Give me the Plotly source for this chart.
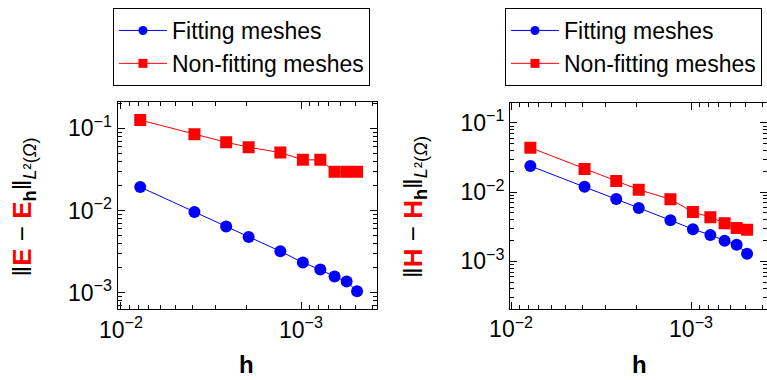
import plotly.graph_objects as go

# mesh sizes h
h = [0.0078125, 0.00390625, 0.0026042, 0.0019531, 0.0013021,
     0.00097656, 0.00078125, 0.00065104, 0.00055804, 0.00048828]

# ||E - E_h||
E_fit = [0.0193, 0.0096, 0.0064, 0.00477, 0.00319, 0.00233, 0.00191, 0.00157, 0.00137, 0.00104]
E_nonfit = [0.126, 0.0846, 0.0676, 0.0589, 0.0506, 0.0413, 0.0413, 0.0295, 0.0295, 0.0295]

# ||H - H_h||
H_fit = [0.0239, 0.0120, 0.00798, 0.00592, 0.00393, 0.00291, 0.00241, 0.00199, 0.00173, 0.00129]
H_nonfit = [0.0440, 0.0216, 0.0145, 0.01087, 0.00789, 0.00517, 0.00434, 0.00355, 0.00304, 0.00287]

series_names = ["Fitting meshes", "Non-fitting meshes"]
tick_vals = [1e-1, 1e-2, 1e-3]
tick_text = ["10<sup>\u22121</sup>", "10<sup>\u22122</sup>", "10<sup>\u22123</sup>"]
xtick_vals = [1e-2, 1e-3]
xtick_text = ["10<sup>\u22122</sup>", "10<sup>\u22123</sup>"]

W, H = 767, 380
FONT = "Liberation Sans, Arial, sans-serif"
BLUE = "#0000ff"
RED = "#ff0000"

minor_vals = [k * 10.0 ** e for e in range(-5, 1) for k in range(2, 10)]

fig = go.Figure()

panels = [
    ("x", "y", E_fit, E_nonfit, "legend"),
    ("x2", "y2", H_fit, H_nonfit, "legend2"),
]
for xa, ya, fit, nonfit, lg in panels:
    fig.add_trace(go.Scatter(x=h, y=fit, xaxis=xa, yaxis=ya, mode="lines+markers",
                             line=dict(color=BLUE, width=1),
                             marker=dict(symbol="circle", size=12, color=BLUE),
                             showlegend=False))
    fig.add_trace(go.Scatter(x=h, y=nonfit, xaxis=xa, yaxis=ya, mode="lines+markers",
                             line=dict(color=RED, width=1),
                             marker=dict(symbol="square", size=12, color=RED),
                             showlegend=False))
    # legend entries (smaller markers as in the reference legend)
    for name, col, sym, grp in [(series_names[0], BLUE, "circle", "a"),
                                (series_names[1], RED, "square", "b")]:
        fig.add_trace(go.Scatter(x=[None], y=[None], xaxis=xa, yaxis=ya,
                                 mode="lines+markers", name=name,
                                 line=dict(color=col, width=1),
                                 marker=dict(symbol=sym, size=9, color=col),
                                 legend=lg, legendgroup=grp + lg, showlegend=True))

def px_x(p):
    return p / W

def px_y(p):
    return 1 - p / H

axis_common = dict(
    type="log", showline=True, linecolor="black", linewidth=1, mirror="allticks",
    ticks="inside", ticklen=7, tickcolor="black", tickwidth=1,
    showgrid=False, zeroline=False,
    tickfont=dict(family=FONT, size=23, color="black"),
    minor=dict(ticks="inside", ticklen=4, tickcolor="black", tickwidth=1,
               tickmode="array", tickvals=minor_vals, showgrid=False),
    tickmode="array",
)

legend_common = dict(
    xanchor="left", yanchor="top",
    bordercolor="black", borderwidth=1, bgcolor="white",
    font=dict(family=FONT, size=23, color="black"),
    itemwidth=48, traceorder="grouped", tracegroupgap=0,
)

fig.update_layout(
    width=W, height=H,
    margin=dict(l=0, r=0, t=0, b=0, autoexpand=False),
    paper_bgcolor="white", plot_bgcolor="white",
    font=dict(family=FONT, size=22, color="black"),
    xaxis=dict(domain=[px_x(117.5), px_x(377)], range=[-1.981, -3.422],
               anchor="y", tickvals=xtick_vals, ticktext=xtick_text, **axis_common),
    yaxis=dict(domain=[px_y(309), px_y(102.3)], range=[-3.198, -0.684],
               anchor="x", tickvals=tick_vals, ticktext=tick_text, **axis_common),
    xaxis2=dict(domain=[px_x(510), 1.0], range=[-1.994, -3.422],
                anchor="y2", tickvals=xtick_vals, ticktext=xtick_text, **axis_common),
    yaxis2=dict(domain=[px_y(308.7), px_y(102.7)], range=[-3.685, -0.707],
                anchor="x2", tickvals=tick_vals, ticktext=tick_text, **axis_common),
    legend=dict(x=px_x(113), y=px_y(8), **legend_common),
    legend2=dict(x=px_x(505), y=px_y(8), **legend_common),
)

ytitle_E = ("\u2016<b><span style='color:#ff0000'>E</span></b> \u2212 "
            "<b><span style='color:#ff0000'>E</span></b><sub><b>h</b></sub>\u2016"
            "<sub><i>L</i>\u00b2(<i>\u03a9</i>)</sub>")
ytitle_H = ("\u2016<b><span style='color:#ff0000'>H</span></b> \u2212 "
            "<b><span style='color:#ff0000'>H</span></b><sub><b>h</b></sub>\u2016"
            "<sub><i>L</i>\u00b2(<i>\u03a9</i>)</sub>")

for xc, txt in [(22.5, ytitle_E), (414, ytitle_H)]:
    fig.add_annotation(text=txt, xref="paper", yref="paper", x=px_x(xc), y=px_y(207),
                       xanchor="center", yanchor="middle", textangle=-90, showarrow=False,
                       font=dict(family=FONT, size=26, color="black"))

for xc in [247, 639]:
    fig.add_annotation(text="<b>h</b>", xref="paper", yref="paper", x=px_x(xc), y=0,
                       xanchor="center", yanchor="bottom", showarrow=False,
                       font=dict(family=FONT, size=24, color="black"))

fig.write_html("out.html", config={"displayModeBar": False},
               post_script="document.body.style.margin='0';document.body.style.overflow='hidden';")
